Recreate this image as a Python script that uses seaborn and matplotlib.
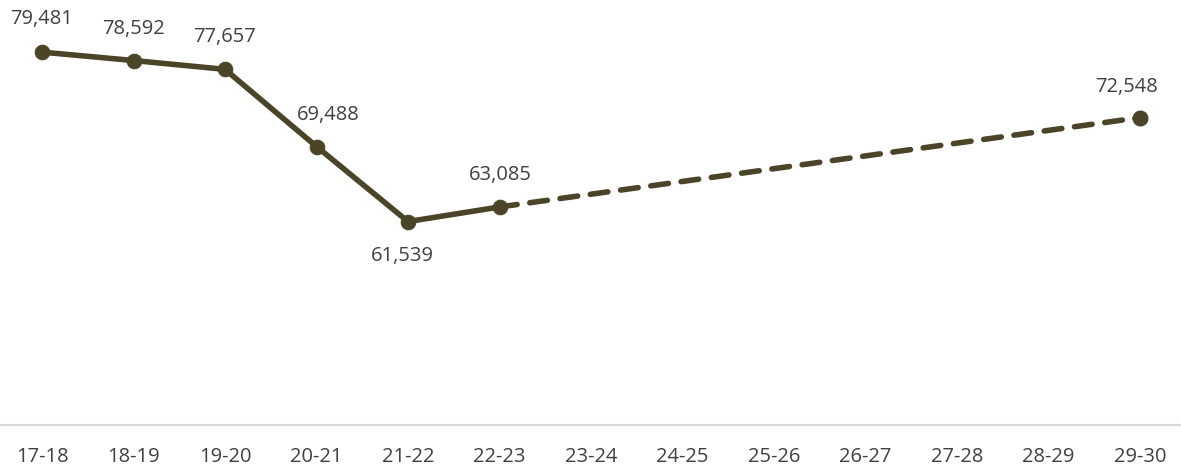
import matplotlib
matplotlib.use("Agg")
import matplotlib.pyplot as plt
import seaborn as sns
import pandas as pd

# School years on the x axis
years = ["17-18", "18-19", "19-20", "20-21", "21-22", "22-23", "23-24",
         "24-25", "25-26", "26-27", "27-28", "28-29", "29-30"]

# Actual enrolment (17-18 through 22-23)
actual_years = ["17-18", "18-19", "19-20", "20-21", "21-22", "22-23"]
actual_values = [79481, 78592, 77657, 69488, 61539, 63085]

# Projection from the last actual year to 29-30
proj_years = ["22-23", "29-30"]
proj_values = [63085, 72548]

# Label offsets in pixels (dx, dy) for each labelled point
label_offsets = {
    "17-18": (0, 33), "18-19": (0, 32), "19-20": (0, 32), "20-21": (12, 32),
    "21-22": (-6, -34), "22-23": (1, 32), "29-30": (-14, 31),
}

sns.set_theme(style="white")
plt.rcParams["font.family"] = ["Open Sans", "DejaVu Sans"]

color = "#4b4428"
text_color = "#404040"

pos = {y: i for i, y in enumerate(years)}
df_actual = pd.DataFrame({"x": [pos[y] for y in actual_years], "value": actual_values})
df_proj = pd.DataFrame({"x": [pos[y] for y in proj_years], "value": proj_values})

fig = plt.figure(figsize=(11.81, 4.68), dpi=100)
ax = fig.add_axes([0, 43 / 468, 1, 425 / 468])

sns.lineplot(data=df_proj, x="x", y="value", ax=ax, color=color, linewidth=4.0,
             linestyle=(0, (3.2, 2.3)), dash_capstyle="round")
sns.lineplot(data=df_actual, x="x", y="value", ax=ax, color=color, linewidth=4.0,
             marker="o", markersize=10.5, markeredgecolor=color,
             solid_capstyle="round", solid_joinstyle="round")
ax.plot([pos["29-30"]], [proj_values[-1]], marker="o", markersize=10.5,
        color=color, linestyle="none")

labelled = list(zip(actual_years, actual_values)) + [(proj_years[-1], proj_values[-1])]
for yr, val in labelled:
    dx, dy = label_offsets[yr]
    ax.annotate(f"{val:,}", (pos[yr], val), xytext=(dx, dy),
                textcoords="offset pixels", ha="center", va="center",
                fontsize=14.5, color=text_color)

ax.set_xlim(-42 / 91.5, 12 + 41 / 91.5)
ax.set_ylim(40000, 85000)
ax.set_xticks(range(len(years)))
ax.set_xticklabels(years)
ax.set_yticks([])
ax.set_xlabel("")
ax.set_ylabel("")
ax.tick_params(axis="x", length=0, pad=16, labelsize=14.5, labelcolor=text_color)

for side in ["top", "left", "right"]:
    ax.spines[side].set_visible(False)
ax.spines["bottom"].set_color("#d9d9d9")
ax.spines["bottom"].set_linewidth(1.5)

fig.savefig("out.png", dpi=100)
